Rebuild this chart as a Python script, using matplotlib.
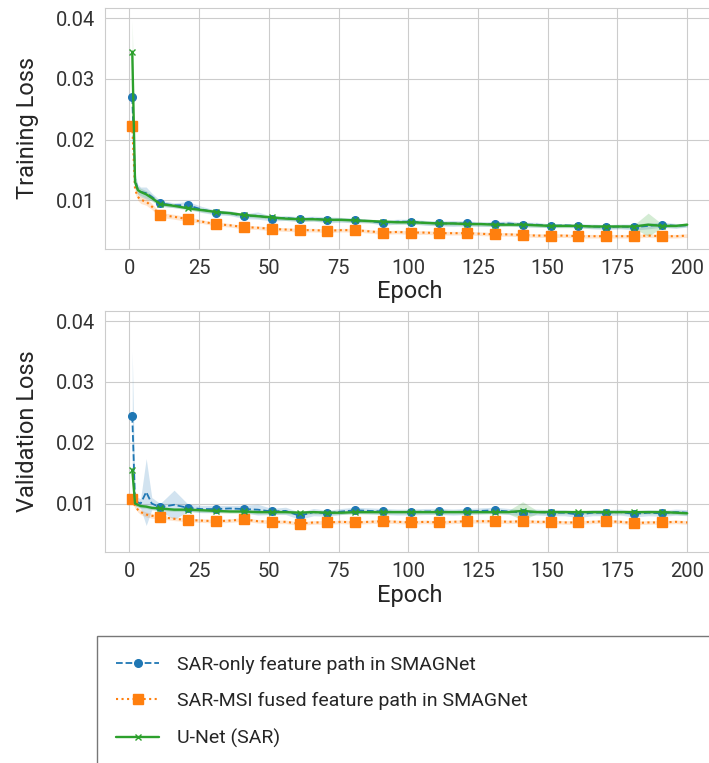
import matplotlib
matplotlib.use("Agg")
import matplotlib.pyplot as plt
import numpy as np
import seaborn as sns

sns.set_style("whitegrid")
plt.rcParams["font.family"] = ["Roboto", "DejaVu Sans"]

epochs = [1, 2, 3, 4, 6, 8, 11,
          16, 21, 26, 31, 36, 41, 46, 51, 56, 61,
          66, 71, 76, 81, 86, 91, 96, 101, 106, 111,
          116, 121, 126, 131, 136, 141, 146, 151, 156, 161,
          166, 171, 176, 181, 186, 191, 196,
          200]
marker_epochs = [1, 11, 21, 31, 41, 51, 61, 71, 81, 91,
                 101, 111, 121, 131, 141, 151, 161, 171, 181, 191]

# losses in units of 1e-4
train_sar = [270, 135, 118, 114, 112, 106, 95,
             92, 92, 85, 80, 79, 74, 75, 70, 71, 69,
             70, 68, 68, 67, 66, 63, 65, 65, 63, 62,
             62, 62, 61, 61, 62, 60, 60, 58, 59, 58,
             57, 56, 57, 56, 58, 60, 58,
             59]
train_sar_sd = [30, 10, 8, 8, 10, 6, 5,
                4, 6, 5, 4, 4, 4, 6, 4, 4, 4,
                4, 5, 4, 4, 3, 4, 4, 4, 4, 4,
                5, 4, 4, 4, 4, 4, 4, 3, 3, 3,
                4, 4, 4, 5, 5, 4, 4,
                3]
train_fused = [223, 118, 106, 101, 98, 90, 76,
               73, 69, 65, 61, 59, 56, 55, 53, 52, 51,
               51, 50, 51, 51, 49, 47, 48, 47, 47, 46,
               46, 46, 45, 44, 44, 43, 42, 42, 42, 41,
               41, 41, 41, 41, 42, 41, 41,
               42]
train_fused_sd = [20, 6, 6, 6, 6, 5, 4,
                  4, 4, 3, 3, 3, 3, 3, 3, 3, 3,
                  3, 3, 3, 3, 3, 3, 3, 3, 3, 3,
                  3, 3, 3, 3, 3, 3, 3, 3, 3, 3,
                  3, 3, 3, 3, 3, 3, 3,
                  3]
train_unet = [345, 130, 117, 114, 110, 104, 94,
              91, 87, 84, 81, 79, 76, 74, 72, 70, 69,
              69, 68, 68, 67, 66, 65, 64, 64, 63, 62,
              62, 61, 61, 60, 60, 60, 59, 58, 58, 58,
              57, 57, 57, 57, 60, 58, 58,
              60]
train_unet_sd = [53, 10, 6, 6, 6, 5, 3,
                 3, 3, 3, 3, 3, 3, 3, 3, 3, 3,
                 3, 3, 3, 3, 3, 3, 3, 3, 3, 3,
                 3, 3, 3, 3, 3, 3, 3, 3, 3, 3,
                 3, 3, 3, 3, 19, 3, 3,
                 3]

val_sar = [244, 105, 102, 100, 119, 100, 94,
           98, 93, 91, 91, 92, 91, 90, 87, 88, 80,
           86, 84, 87, 89, 88, 87, 86, 86, 87, 87,
           86, 87, 88, 89, 87, 85, 86, 85, 85, 82,
           85, 85, 86, 83, 85, 84, 86,
           85]
val_sar_sd = [107, 8, 8, 8, 55, 10, 6,
              24, 6, 6, 6, 5, 6, 9, 5, 6, 6,
              6, 5, 5, 5, 5, 5, 5, 5, 5, 5,
              5, 5, 5, 5, 5, 5, 5, 5, 5, 5,
              5, 5, 5, 5, 5, 5, 5,
              5]
val_fused = [108, 96, 90, 86, 82, 80, 78,
             75, 73, 72, 71, 72, 74, 71, 70, 70, 67,
             69, 69, 70, 69, 70, 71, 70, 69, 70, 69,
             70, 71, 71, 71, 70, 71, 70, 70, 69, 69,
             70, 71, 70, 68, 69, 69, 70,
             69]
val_fused_sd = [6, 4, 4, 4, 4, 4, 3,
                3, 3, 3, 3, 3, 3, 3, 3, 3, 3,
                3, 3, 3, 3, 3, 3, 3, 3, 3, 3,
                3, 3, 3, 3, 3, 3, 3, 3, 3, 3,
                3, 3, 3, 3, 3, 3, 3,
                3]
val_unet = [156, 100, 98, 96, 95, 93, 92,
            90, 90, 89, 88, 87, 87, 86, 86, 86, 85,
            86, 85, 85, 86, 86, 86, 86, 86, 86, 86,
            86, 86, 86, 86, 86, 88, 86, 86, 86, 86,
            86, 86, 86, 86, 86, 86, 85,
            84]
val_unet_sd = [8, 4, 3, 3, 3, 3, 3,
               3, 3, 3, 3, 3, 3, 3, 3, 3, 3,
               3, 3, 3, 3, 3, 3, 3, 3, 3, 3,
               3, 3, 3, 3, 3, 15, 3, 3, 3, 3,
               3, 3, 3, 3, 3, 3, 3,
               3]

labels = ["SAR-only feature path in SMAGNet",
          "SAR-MSI fused feature path in SMAGNet",
          "U-Net (SAR)"]
colors = ["#1f77b4", "#ff7f0e", "#2ca02c"]
styles = [dict(ls="--", marker="o", ms=5.5, lw=1.3),
          dict(ls=":", marker="s", ms=6.5, lw=1.5),
          dict(ls="-", marker="x", ms=5, lw=1.7)]

x = np.array(epochs)
mark_idx = [epochs.index(e) for e in marker_epochs]

fig = plt.figure(figsize=(7.09, 7.63), dpi=100)
ax_top = fig.add_axes([0.1474, 0.6737, 0.861, 0.3159])
ax_bot = fig.add_axes([0.1474, 0.2762, 0.861, 0.3166])

panels = [
    (ax_top, "Training Loss",
     [(train_sar, train_sar_sd), (train_fused, train_fused_sd), (train_unet, train_unet_sd)]),
    (ax_bot, "Validation Loss",
     [(val_sar, val_sar_sd), (val_fused, val_fused_sd), (val_unet, val_unet_sd)]),
]

handles = []
for ax, ylabel, series in panels:
    handles = []
    for (mean, sd), c, st, lab in zip(series, colors, styles, labels):
        m = np.array(mean) * 1e-4
        s = np.array(sd) * 1e-4
        ax.fill_between(x, m - s, m + s, color=c, alpha=0.2, lw=0)
        h, = ax.plot(x, m, color=c, markevery=mark_idx, label=lab, **st)
        handles.append(h)
    ax.set_xlim(-8.95, 209.95)
    ax.set_ylim(0.0020, 0.0417)
    ax.set_xticks([0, 25, 50, 75, 100, 125, 150, 175, 200])
    ax.set_yticks([0.01, 0.02, 0.03, 0.04])
    ax.tick_params(labelsize=14.5, colors="#333333")
    ax.set_xlabel("Epoch", fontsize=17, labelpad=2)
    ax.set_ylabel(ylabel, fontsize=17, labelpad=12)
    for sp in ax.spines.values():
        sp.set_color("#cccccc")

leg = fig.legend(handles=handles, loc="upper left",
                 bbox_to_anchor=(97 / 709, 0, 1.0, 1 - 636 / 763),
                 bbox_transform=fig.transFigure, mode="expand",
                 borderaxespad=0, fontsize=14, frameon=True,
                 fancybox=False, handlelength=2.2, labelspacing=0.95,
                 borderpad=1.0, handletextpad=0.9)
leg.get_frame().set_edgecolor("#555555")
leg.get_frame().set_linewidth(1.0)

fig.savefig("out.png", dpi=100)
